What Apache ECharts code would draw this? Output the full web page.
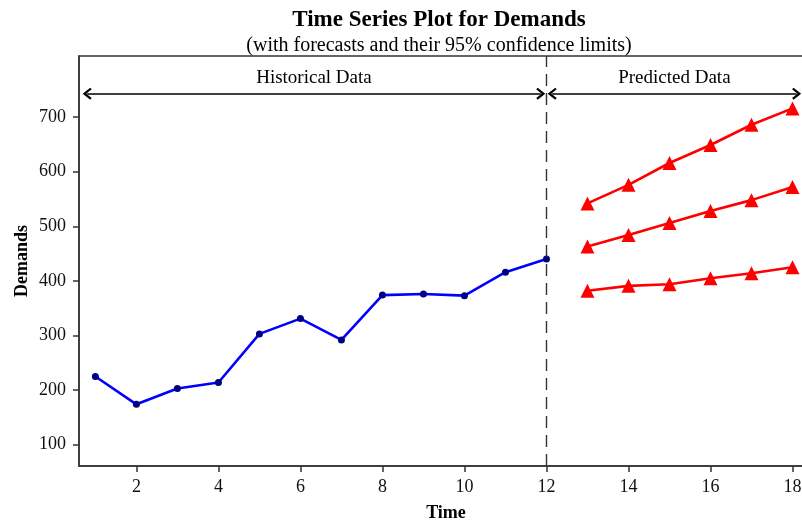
<!DOCTYPE html>
<html>
<head>
<meta charset="utf-8">
<script src="https://cdn.jsdelivr.net/npm/echarts@6/dist/echarts.min.js"></script>
<style>
html,body{margin:0;padding:0;background:#fff;}
#chart{width:802px;height:525px;}
</style>
</head>
<body>
<div id="chart"></div>
<script>
const xTicks = [2, 4, 6, 8, 10, 12, 14, 16, 18];
const yTicks = [100, 200, 300, 400, 500, 600, 700];
const histTime = [1, 2, 3, 4, 5, 6, 7, 8, 9, 10, 11, 12];
const histDemand = [225, 174, 203, 214, 303, 331, 292, 374, 376, 373, 416, 440];
const predTime = [13, 14, 15, 16, 17, 18];
const upperLimit = [542, 576, 616, 649, 686, 716];
const forecast = [463, 484, 506, 528, 548, 572];
const lowerLimit = [382, 391, 394, 405, 414, 425];
const splitTime = 12;
const sectionLabels = ['Historical Data', 'Predicted Data'];

const FONT = '"Liberation Serif", "Times New Roman", serif';
const pair = (xs, ys) => xs.map((x, i) => [x, ys[i]]);
const chevron = 'path://M6,0 L12,7.2 L10.4,8.6 L6,3.4 L1.6,8.6 L0,7.2 Z';

const redSeries = (name, vals) => ({
  name, type: 'line', data: pair(predTime, vals),
  symbol: 'triangle', symbolSize: 14, showSymbol: true,
  lineStyle: { color: '#ff0000', width: 2.6 },
  itemStyle: { color: '#ff0000' },
  z: 3
});

const arrowY = 743;
const option = {
  animation: false,
  backgroundColor: '#fff',
  title: {
    text: 'Time Series Plot for Demands',
    subtext: '(with forecasts and their 95% confidence limits)',
    left: 434, top: 4, textAlign: 'center', itemGap: 4,
    textStyle: { fontFamily: FONT, fontWeight: 'bold', fontSize: 23, color: '#000' },
    subtextStyle: { fontFamily: FONT, fontSize: 20, color: '#000' }
  },
  grid: {
    left: 79, top: 56, right: -11, bottom: 59,
    show: true, borderColor: '#333', borderWidth: 1.5,
    outerBoundsMode: 'none', containLabel: false
  },
  xAxis: {
    type: 'value', min: 0.6, max: 18.5,
    name: 'Time', nameLocation: 'middle', nameGap: 38,
    nameTextStyle: { fontFamily: FONT, fontWeight: 'bold', fontSize: 18, color: '#000' },
    axisLine: { show: true, onZero: false, lineStyle: { color: '#333', width: 1.5 } },
    axisTick: { show: true, length: 6, customValues: xTicks, lineStyle: { color: '#333', width: 1.5 } },
    axisLabel: { customValues: xTicks, margin: 12, fontFamily: FONT, fontSize: 18, color: '#111' },
    splitLine: { show: false }
  },
  yAxis: {
    type: 'value', min: 61, max: 812,
    name: 'Demands', nameLocation: 'middle', nameGap: 48, nameMoveOverlap: false,
    nameTextStyle: { fontFamily: FONT, fontWeight: 'bold', fontSize: 18, color: '#000' },
    axisLine: { show: true, onZero: false, lineStyle: { color: '#333', width: 1.5 } },
    axisTick: { show: true, length: 6, customValues: yTicks, lineStyle: { color: '#333', width: 1.5 } },
    axisLabel: { customValues: yTicks, margin: 13, fontFamily: FONT, fontSize: 18, color: '#111' },
    splitLine: { show: false }
  },
  series: [
    {
      name: 'Historical', type: 'line', data: pair(histTime, histDemand),
      symbol: 'circle', symbolSize: 7, showSymbol: true,
      lineStyle: { color: '#0000ff', width: 2.6 },
      itemStyle: { color: '#000080' },
      z: 3,
      markLine: {
        silent: true, symbol: ['none', 'none'], animation: false,
        lineStyle: { color: '#333', width: 1.4, type: [12, 7] },
        label: { show: false },
        data: [{ xAxis: splitTime }]
      }
    },
    redSeries('Upper', upperLimit),
    redSeries('Forecast', forecast),
    redSeries('Lower', lowerLimit),
    {
      name: 'annot', type: 'line', data: [],
      markLine: {
        silent: true, animation: false,
        symbol: [chevron, chevron], symbolSize: [12, 9],
        lineStyle: { color: '#000', width: 1.6, type: 'solid' },
        label: {
          show: true, position: 'middle', distance: 6,
          fontFamily: FONT, fontSize: 19, color: '#000',
          formatter: p => p.name
        },
        data: [
          [{ name: sectionLabels[0], coord: [0.80, arrowY] }, { coord: [11.86, arrowY] }],
          [{ name: sectionLabels[1], coord: [12.14, arrowY] }, { coord: [18.1, arrowY] }]
        ]
      }
    }
  ]
};

const chart = echarts.init(document.getElementById('chart'), null, { renderer: 'canvas' });
chart.setOption(option);
</script>
</body>
</html>
